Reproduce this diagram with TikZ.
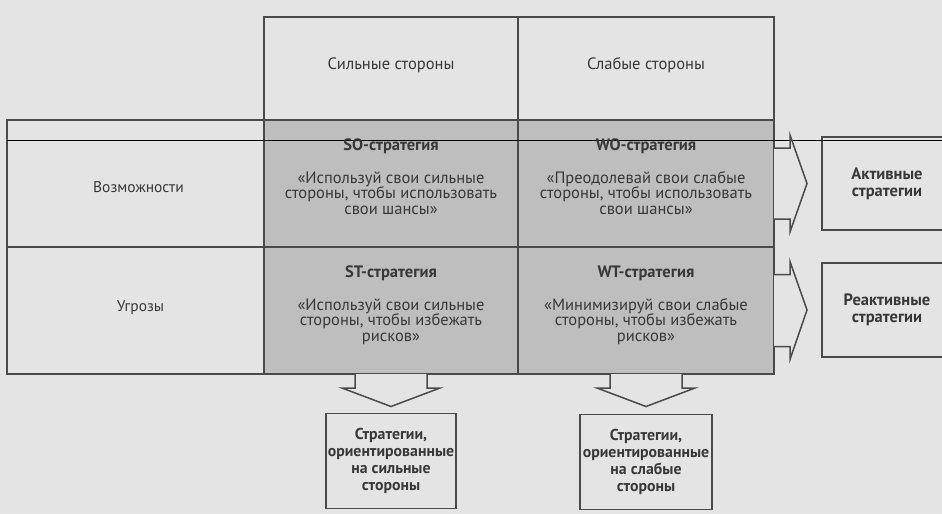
\documentclass[tikz,border=0pt]{standalone}
\usepackage{fontspec}
\setmainfont{PT Sans}
\usetikzlibrary{calc}
\definecolor{bg}{HTML}{E4E4E4}
\definecolor{cellg}{HTML}{BEBEBE}
\definecolor{linec}{HTML}{4A4A4A}
\definecolor{txt}{HTML}{383838}
\begin{document}
\begin{tikzpicture}[x=1pt,y=-1pt,
  box/.style={draw=linec, line width=1.7pt, outer sep=0pt, inner sep=0pt},
  cellbox/.style={box, fill=cellg},
  lbl/.style={text=txt, font=\fontsize{16.5}{15.5}\selectfont, align=center, inner sep=0pt},
  blbl/.style={text=txt, font=\bfseries\fontsize{16.5}{17}\selectfont, align=center, inner sep=0pt},
  bblbl/.style={text=txt, font=\bfseries\fontsize{15.8}{17}\selectfont, align=center, inner sep=0pt},
  blockarrow/.style={draw=linec, line width=1.5pt, fill=bg, line join=miter}]
\fill[bg] (0,0) rectangle (942,514);
\useasboundingbox (0,0) rectangle (942,514);

% header cells
\node[box, minimum width=254pt, minimum height=103pt] (hS) at (391,68.5) {};
\node[box, minimum width=256pt, minimum height=103pt] (hW) at (646,68.5) {};
% left column
\node[box, minimum width=257pt, minimum height=127pt] (opp) at (135.5,183.5) {};
\node[box, minimum width=257pt, minimum height=127pt] (thr) at (135.5,310.5) {};
% strategy cells
\node[cellbox, minimum width=254pt, minimum height=127pt] (SO) at (391,183.5) {};
\node[cellbox, minimum width=256pt, minimum height=127pt] (WO) at (646,183.5) {};
\node[cellbox, minimum width=254pt, minimum height=127pt] (ST) at (391,310.5) {};
\node[cellbox, minimum width=256pt, minimum height=127pt] (WT) at (646,310.5) {};
% result boxes
\node[box, minimum width=130pt, minimum height=93pt] (act) at (887,183.5) {};
\node[box, minimum width=130pt, minimum height=94pt] (react) at (887,310) {};
\node[box, minimum width=130pt, minimum height=95pt] (bs) at (391,461) {};
\node[box, minimum width=132pt, minimum height=95pt] (bw) at (646,462) {};

% scan line
\draw[black, line width=1.1pt] (7,140.5) -- (942,140.5);

% texts
\node[lbl] (thS) at ($(hS.center)+(0,-3)$) {Сильные стороны};
\node[lbl] (thW) at ($(hW.center)+(0,-3)$) {Слабые стороны};
\node[lbl, font=\fontsize{15.5}{15.5}\selectfont] (topp) at ($(opp.center)+(3,4)$) {Возможности};
\node[lbl, font=\fontsize{15.5}{15.5}\selectfont] (tthr) at ($(thr.center)+(5,-3)$) {Угрозы};
\node[lbl, anchor=north] (tSO) at ($(SO.north)+(0,19)$) {\textbf{SO-стратегия}\\[17pt]«Используй свои сильные\\стороны, чтобы использовать\\свои шансы»};
\node[lbl, anchor=north] (tWO) at ($(WO.north)+(0,19)$) {\textbf{WO-стратегия}\\[17pt]«Преодолевай свои слабые\\стороны, чтобы использовать\\свои шансы»};
\node[lbl, anchor=north] (tST) at ($(ST.north)+(0,19)$) {\textbf{ST-стратегия}\\[17pt]«Используй свои сильные\\стороны, чтобы избежать\\рисков»};
\node[lbl, anchor=north] (tWT) at ($(WT.north)+(0,19)$) {\textbf{WT-стратегия}\\[17pt]«Минимизируй свои слабые\\стороны, чтобы избежать\\рисков»};
\node[blbl] (tact) at ($(act.center)+(0,0)$) {Активные\\стратегии};
\node[blbl] (treact) at ($(react.center)+(0,0)$) {Реактивные\\стратегии};
\node[bblbl] (tbs) at (bs.center) {Стратегии,\\ориентированные\\на сильные\\стороны};
\node[bblbl] (tbw) at (bw.center) {Стратегии,\\ориентированные\\на слабые\\стороны};

% block arrows to the right
\draw[blockarrow] ($(WO.east)+(0,-35.5)$) -- ++(16,0) -- ++(0,-13) -- ($(act.west)+(-15,0)$) -- ($(WO.east)+(16,48.5)$) -- ++(0,-13) -- ($(WO.east)+(0,35.5)$);
\draw[blockarrow] ($(WT.east)+(0,-36)$) -- ++(16,0) -- ++(0,-13) -- ($(react.west)+(-15,0)$) -- ($(WT.east)+(16,49)$) -- ++(0,-13) -- ($(WT.east)+(0,36)$);
% block arrows downward
\draw[blockarrow] ($(ST.south)+(-36,0)$) -- ++(0,14) -- ++(-13,0) -- ($(bs.north)+(0,-7)$) -- ($(ST.south)+(49,14)$) -- ++(-13,0) -- ($(ST.south)+(36,0)$);
\draw[blockarrow] ($(WT.south)+(-36,0)$) -- ++(0,14) -- ++(-13,0) -- ($(bw.north)+(0,-8)$) -- ($(WT.south)+(49,14)$) -- ++(-13,0) -- ($(WT.south)+(36,0)$);
\end{tikzpicture}
\end{document}
